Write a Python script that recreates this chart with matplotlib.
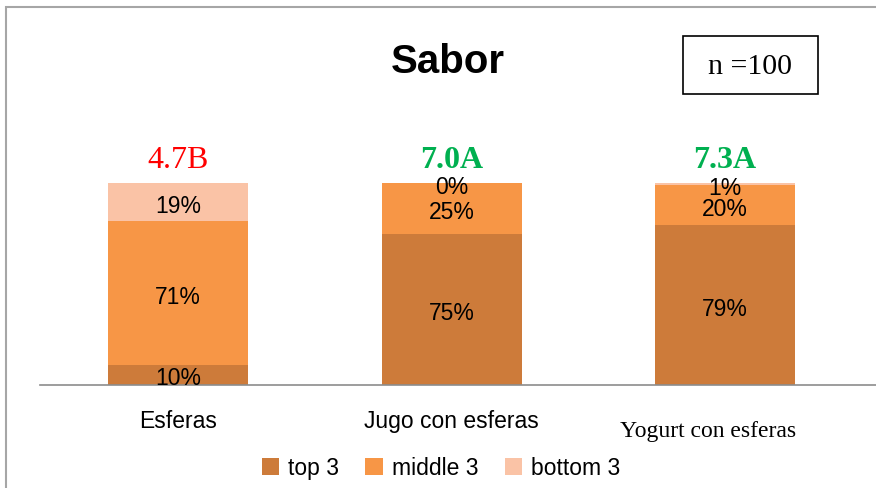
import numpy as np
import matplotlib.pyplot as plt
from matplotlib.patches import Patch, Rectangle
from matplotlib.transforms import offset_copy

# data
categories = ["Esferas", "Jugo con esferas", "Yogurt con esferas"]
top3 = [10, 75, 79]
middle3 = [71, 25, 20]
bottom3 = [19, 0, 1]
scores = ["4.7B", "7.0A", "7.3A"]
score_colors = ["#FF0000", "#00B050", "#00B050"]
score_bold = [False, True, True]
series_names = ["top 3", "middle 3", "bottom 3"]
series_colors = ["#CD7B3A", "#F79646", "#FAC3A6"]

W, H = 876, 489
fig = plt.figure(figsize=(W / 100, H / 100), dpi=100)
fig.patch.set_facecolor("white")

sans = ["Liberation Sans", "DejaVu Sans"]
serif = ["Liberation Serif", "DejaVu Serif"]

# chart frame (only left and top edges visible)
fig.add_artist(Rectangle((6 / W, -0.1), 2.0, (H - 8) / H + 0.1, transform=fig.transFigure,
                         fill=False, edgecolor="#A6A6A6", linewidth=1.5))

ax = fig.add_axes([40 / W, (H - 386) / H, 836 / W, 202 / H])
x = np.arange(len(categories))
width = 0.512
lab_tr = offset_copy(ax.transData, fig=fig, x=0, y=-3, units="dots")

bottoms = np.zeros(len(categories))
for vals, name, col in zip([top3, middle3, bottom3], series_names, series_colors):
    ax.bar(x, vals, width, bottom=bottoms, color=col, label=name, edgecolor="none")
    for xi, b, v in zip(x, bottoms, vals):
        ax.text(xi, b + v / 2, f"{v}%", ha="center", va="center", fontsize=16.5,
                family=sans, color="black", clip_on=False, transform=lab_tr)
    bottoms += np.array(vals)

for xi, s, c, b in zip(x, scores, score_colors, score_bold):
    ax.text(xi, 111.5, s, ha="center", va="center", fontsize=23, family=serif, color=c,
            fontweight="bold" if b else "normal", clip_on=False)

ax.set_xlim(-0.5046, 2.552)
ax.set_ylim(0, 100)
for s in ["top", "right", "left"]:
    ax.spines[s].set_visible(False)
ax.spines["bottom"].set_color("#8C8C8C")
ax.spines["bottom"].set_linewidth(1.2)
ax.set_yticks([])
ax.set_xticks([])

# category labels
ax.text(0, -17.5, categories[0], ha="center", va="center", fontsize=16.5, family=sans,
        clip_on=False)
ax.text(1, -17.5, categories[1], ha="center", va="center", fontsize=16.5, family=sans,
        clip_on=False)
ax.text(1.937, -22.5, categories[2], ha="center", va="center", fontsize=17, family=serif,
        clip_on=False)

# title
fig.text(448 / W, 1 - 62 / H, "Sabor", ha="center", va="center", fontsize=29,
         fontweight="bold", family=sans)

# n box
fig.add_artist(Rectangle((683 / W, 1 - 95 / H), 135 / W, 58 / H, transform=fig.transFigure,
                         fill=False, edgecolor="black", linewidth=1.2))
fig.text(750 / W, 1 - 67 / H, "n =100", ha="center", va="center", fontsize=21.5, family=serif)

# legend
handles = [Patch(facecolor=c, edgecolor="none") for c in series_colors]
leg = fig.legend(handles, series_names, loc="center", bbox_to_anchor=(441 / W, 1 - 469 / H),
                 ncol=3, frameon=False, handlelength=0.75, handleheight=0.75, handletextpad=0.4,
                 columnspacing=1.15, prop={"family": sans, "size": 16.5})

fig.savefig("out.png", dpi=100)
